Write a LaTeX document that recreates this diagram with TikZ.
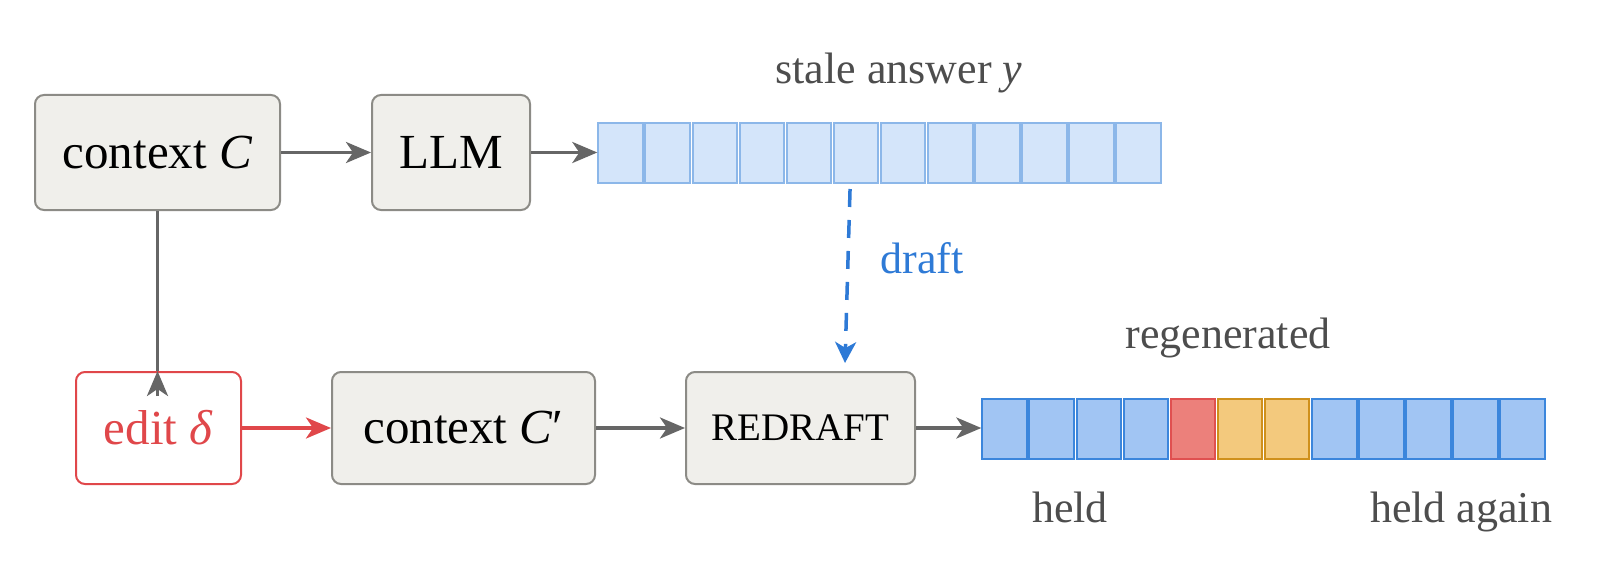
\documentclass[tikz,border=0pt]{standalone}
\usepackage{fontspec}
\setmainfont{Liberation Serif}
\usetikzlibrary{arrows.meta,calc}
\definecolor{boxfill}{HTML}{F0EFEB}
\definecolor{boxdraw}{HTML}{8C8B86}
\definecolor{arr}{HTML}{666666}
\definecolor{lbl}{HTML}{4D4D4D}
\definecolor{editred}{HTML}{E0474A}
\definecolor{dblue}{HTML}{2E7AD6}
\definecolor{stalefill}{HTML}{D4E5FA}
\definecolor{staledraw}{HTML}{8CB7E9}
\definecolor{bfill}{HTML}{A1C5F3}
\definecolor{bdraw}{HTML}{3B86DC}
\definecolor{rfill}{HTML}{EC807B}
\definecolor{rdraw}{HTML}{E05050}
\definecolor{ofill}{HTML}{F3C97D}
\definecolor{odraw}{HTML}{CF901C}
\tikzset{
  procbox/.style={draw=boxdraw, fill=boxfill, line width=2pt, rounded corners=9pt,
    inner sep=0pt, font=\fontsize{49}{58}\selectfont},
  editbox/.style={draw=editred, fill=white, line width=2pt, rounded corners=9pt,
    inner sep=0pt, text=editred, font=\fontsize{49}{58}\selectfont},
  conn/.style={draw=arr, line width=3.5pt, -{Stealth[length=25pt,width=21pt,inset=7pt]}},
  redconn/.style={draw=editred, line width=3.5pt, -{Stealth[length=25pt,width=21pt,inset=7pt]}},
  plainline/.style={draw=arr, line width=3.5pt},
  draftconn/.style={draw=dblue, line width=3.5pt, dash pattern=on 18pt off 13pt,
    -{Stealth[length=21pt,width=21pt,inset=6pt]}},
  cellbase/.style={minimum width=44.5pt, minimum height=60pt, inner sep=0pt, line width=2pt},
  stalecell/.style={cellbase, draw=staledraw, fill=stalefill},
  bcell/.style={cellbase, draw=bdraw, fill=bfill},
  rcell/.style={cellbase, draw=rdraw, fill=rfill},
  ocell/.style={cellbase, draw=odraw, fill=ofill},
  lab/.style={text=lbl, font=\fontsize{44}{52}\selectfont, inner sep=0pt, anchor=base},
}
\begin{document}
\begin{tikzpicture}[x=1pt,y=-1pt]
\path[use as bounding box] (0,0) rectangle (1605,588);
% top row
\node[procbox, minimum width=245pt, minimum height=115pt] (ctx) at (157.5,152.5) {context \textit{C}};
\node[procbox, minimum width=158pt, minimum height=115pt] (llm) at (451,152.5) {LLM};
\foreach \i in {1,...,12}
  \node[stalecell] (s\i) at ({597+(\i-0.5)*47.1},153) {};
\node[lab] (stale) at (899,84) {stale answer \textit{y}};
% bottom row
\node[editbox, minimum width=165pt, minimum height=112pt] (edit) at (158.5,428) {edit \textit{δ}};
\node[procbox, minimum width=263pt, minimum height=112pt] (ctx2) at (463.5,428) {context \textit{C}′};
\node[procbox, minimum width=229pt, minimum height=112pt, font=\fontsize{39}{46}\selectfont] (redraft) at (800.5,428) {REDRAFT};
\foreach \i/\st in {1/bcell,2/bcell,3/bcell,4/bcell,5/rcell,6/ocell,7/ocell,8/bcell,9/bcell,10/bcell,11/bcell,12/bcell}
  \node[\st] (r\i) at ({981+(\i-0.5)*47.1},429) {};
\node[lab] (regen) at (1228,348) {regenerated};
\node[lab] (held) at (1070,522) {held};
\node[lab] (heldagain) at (1461,522) {held again};
% connectors
\draw[conn] (ctx) -- (llm);
\draw[conn] (llm.east) -- (llm.east -| s1.west);
\draw[plainline] (ctx.south) -- (ctx.south |- edit.north);
\draw[conn] ($(ctx.south |- edit.north)+(0,25)$) -- (ctx.south |- edit.north);
\draw[redconn] (edit) -- (ctx2);
\draw[conn] (ctx2) -- (redraft);
\draw[conn] (redraft.east) -- (redraft.east -| r1.west);
\draw[draftconn] ($(s6.south)+(-6,5)$) -- ($(redraft.north)+(44.5,-8)$)
  node[pos=0.4, right=31pt, text=dblue, font=\fontsize{44}{52}\selectfont, inner sep=0pt] (draft) {draft};
\end{tikzpicture}
\end{document}
